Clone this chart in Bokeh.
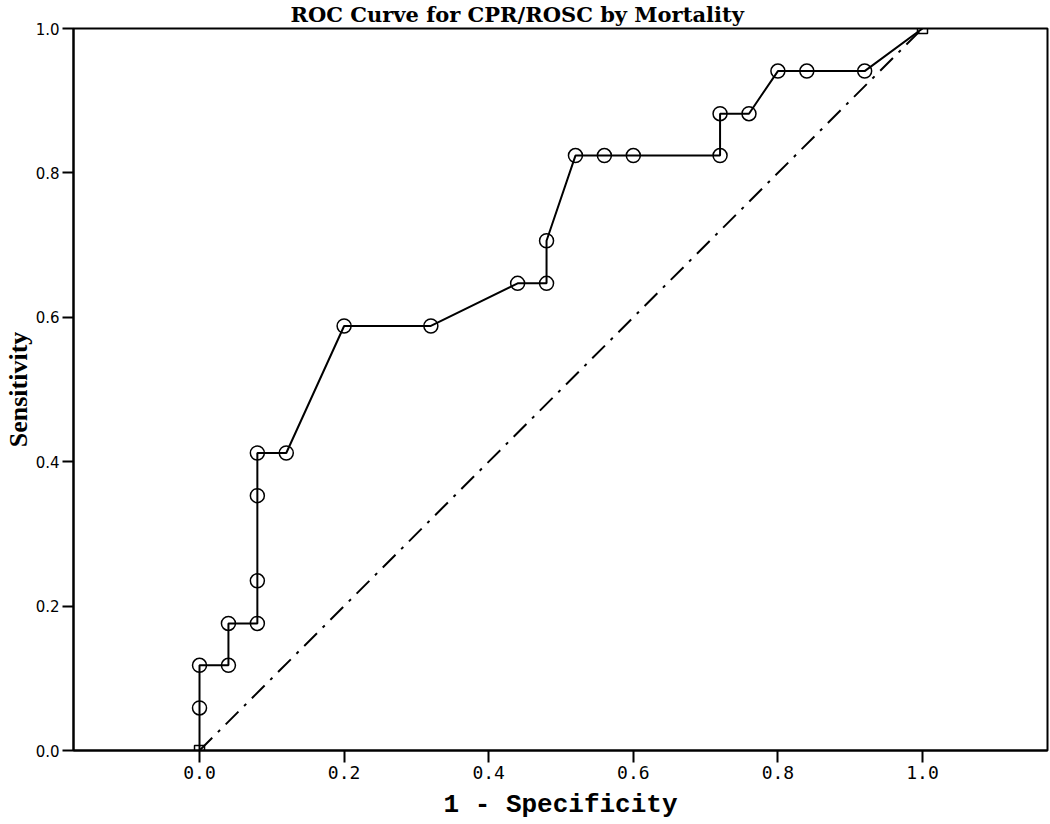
from bokeh.plotting import figure
from bokeh.models import Range1d, FixedTicker, NumeralTickFormatter, ColumnDataSource
from bokeh.embed import file_html
from bokeh.resources import INLINE

title_text = "ROC Curve for CPR/ROSC by Mortality"
x_title = "1 - Specificity"
y_title = "Sensitivity"

# ROC curve points (1 - specificity, sensitivity)
fpr = [0.0, 0.0, 0.0, 0.04, 0.04, 0.08, 0.08, 0.08, 0.08, 0.12, 0.20, 0.32, 0.44,
       0.48, 0.48, 0.52, 0.56, 0.60, 0.72, 0.72, 0.76, 0.80, 0.84, 0.92, 1.0]
tpr = [0.0, 0.059, 0.118, 0.118, 0.176, 0.176, 0.235, 0.353, 0.412, 0.412, 0.588, 0.588, 0.647,
       0.647, 0.706, 0.824, 0.824, 0.824, 0.824, 0.882, 0.882, 0.941, 0.941, 0.941, 1.0]

# reference (chance) line
ref_x = [0.0, 1.0]
ref_y = [0.0, 1.0]

ticks = [0.0, 0.2, 0.4, 0.6, 0.8, 1.0]

p = figure(width=1050, height=824, output_backend="svg", toolbar_location=None,
           x_range=Range1d(-0.1743, 1.1729), y_range=Range1d(0.0, 1.0),
           min_border_left=73, min_border_right=3, min_border_top=28, min_border_bottom=74)

p.background_fill_color = "white"
p.border_fill_color = "white"
p.outline_line_color = "black"
p.outline_line_width = 2
p.xgrid.visible = False
p.ygrid.visible = False

p.title.text = title_text
p.title.align = "left"
p.title.offset = 217
p.title.standoff = 0
p.title.vertical_align = "top"
p.title.text_font = "DejaVu Serif"
p.title.text_font_style = "bold"
p.title.text_font_size = "21px"
p.title.text_color = "black"

# reference line
p.line(ref_x, ref_y, line_color="black", line_width=2, line_dash="18 8 3 8")
p.scatter(ref_x, ref_y, marker="square", size=10, fill_color=None, line_color="black", line_width=1.5)

# ROC curve
p.line(fpr, tpr, line_color="black", line_width=2)
src = ColumnDataSource(dict(x=fpr[1:-1], y=tpr[1:-1]))
p.scatter("x", "y", source=src, marker="circle", size=14, fill_color=None,
          line_color="black", line_width=1.5)

for ax in (p.xaxis[0], p.yaxis[0]):
    ax.ticker = FixedTicker(ticks=ticks)
    ax.formatter = NumeralTickFormatter(format="0.0")
    ax.axis_line_color = "black"
    ax.axis_line_width = 2
    ax.major_tick_line_color = "black"
    ax.major_tick_line_width = 2
    ax.major_tick_in = 0
    ax.minor_tick_line_color = None
    ax.major_label_text_color = "black"
    ax.axis_label_text_color = "black"
    ax.axis_label_text_font_style = "bold"

xa = p.xaxis[0]
xa.major_tick_out = 12
xa.major_label_standoff = 3
xa.major_label_text_font = "DejaVu Sans Mono"
xa.major_label_text_font_size = "18px"
xa.axis_label = x_title
xa.axis_label_text_font = "Liberation Mono"
xa.axis_label_text_font_size = "26px"
xa.axis_label_standoff = 8

ya = p.yaxis[0]
ya.major_tick_out = 11
ya.major_label_standoff = 3
ya.major_label_text_font = "DejaVu Sans"
ya.major_label_text_font_size = "15px"
ya.axis_label = y_title
ya.axis_label_text_font = "Liberation Serif"
ya.axis_label_text_font_size = "26px"
ya.axis_label_standoff = 0

open("out.html", "w").write(file_html(p, INLINE))
